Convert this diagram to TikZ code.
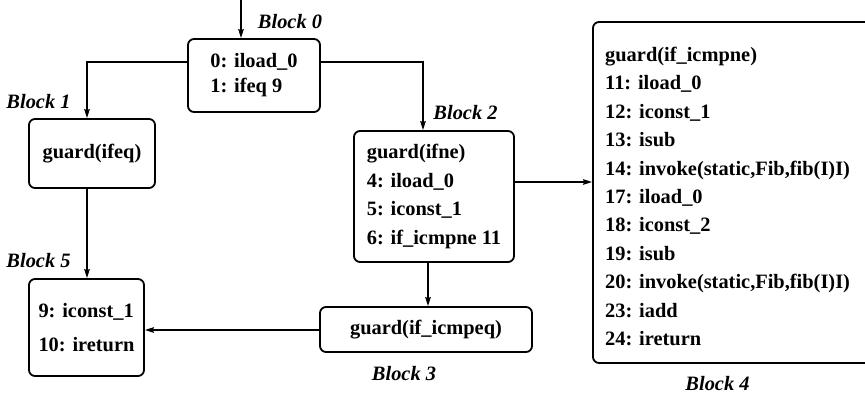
\documentclass[tikz,border=0pt]{standalone}
\usepackage{fontspec}
\setmainfont{Liberation Serif}
\usetikzlibrary{arrows.meta}
\begin{document}
\begin{tikzpicture}[x=1pt,y=-1pt,
  box/.style={draw,line width=1.8pt,rounded corners=6pt,inner sep=0pt,align=left,
    font=\fontsize{20.4}{28.4}\selectfont\bfseries},
  txt/.style={inner sep=0pt,align=left,font=\fontsize{20.4}{28.4}\selectfont\bfseries},
  blk/.style={inner sep=0pt,font=\fontsize{20.4}{24}\selectfont\bfseries\itshape},
  conn/.style={line width=1.5pt,-{Stealth[length=9pt,width=5.5pt,inset=1pt]}}]
\useasboundingbox (0,0) rectangle (865,396);
\clip (0,0) rectangle (865,396);
% boxes
\node[box,minimum width=132pt,minimum height=73pt,font=\fontsize{20.4}{25}\selectfont\bfseries] (b0) at (254,75.5)
  {0: iload\_0\\1: ifeq 9};
\node[box,minimum width=126pt,minimum height=69pt] (b1) at (92,153.5) {guard(ifeq)};
\node[box,minimum width=160pt,minimum height=131pt] (b2) at (434,196.5)
  {guard(ifne)\\4: iload\_0\\5: iconst\_1\\6: if\_icmpne 11};
\node[box,minimum width=212pt,minimum height=45pt] (b3) at (426,329.5) {guard(if\_icmpeq)};
\node[box,minimum width=115pt,minimum height=97pt,font=\fontsize{20.4}{34}\selectfont\bfseries] (b5) at (86.5,327.5)
  {9: iconst\_1\\10: ireturn};
\node[box,minimum width=290pt,minimum height=341pt] (b4) at (738,192.5) {};
\node[txt,anchor=north west] (b4t) at (605,47)
  {guard(if\_icmpne)\\11: iload\_0\\12: iconst\_1\\13: isub\\14: invoke(static,Fib,fib(I)I)\\17: iload\_0\\18: iconst\_2\\19: isub\\20: invoke(static,Fib,fib(I)I)\\23: iadd\\24: ireturn};
% labels
\node[blk] (l0) at (290,22) {Block 0};
\node[blk] (l1) at (38.5,102) {Block 1};
\node[blk] (l2) at (465.5,113) {Block 2};
\node[blk] (l3) at (404,374) {Block 3};
\node[blk] (l4) at (717.5,384) {Block 4};
\node[blk] (l5) at (38.5,261) {Block 5};
% connectors
\coordinate (start) at (241,0);
\draw[conn] (start) -- (start |- b0.north);
\draw[conn] (b0.west |- 0,62) -- (87,62) -- (87,0 |- b1.north);
\draw[conn] (b0.east |- 0,62) -- (423,62) -- (423,0 |- b2.north);
\draw[conn] (87,0 |- b1.south) -- (87,0 |- b5.north);
\draw[conn] (428,0 |- b2.south) -- (428,0 |- b3.north);
\draw[conn] (b2.east |- 0,182) -- (b4.west |- 0,182);
\draw[conn] (b3.west |- 0,330) -- (b5.east |- 0,330);
\end{tikzpicture}
\end{document}
